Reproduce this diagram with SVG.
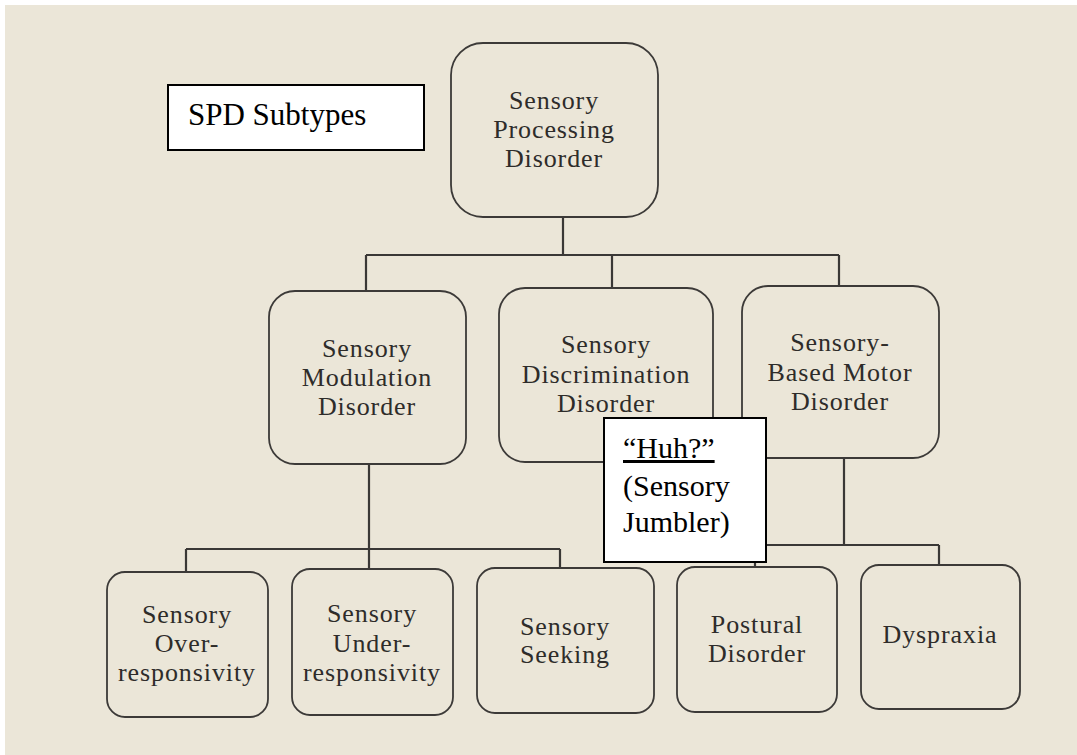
<svg xmlns="http://www.w3.org/2000/svg" width="1077" height="755" viewBox="0 0 1077 755">
<style>
.node rect{fill:none;stroke:#3c3a38;stroke-width:1.8}
.node text{font-family:'Liberation Serif','Times New Roman','DejaVu Serif',serif;font-size:26px;fill:#2e2c2a;text-anchor:middle;letter-spacing:0.9px}
.conn{fill:none;stroke:#3a3836;stroke-width:2.2}
.note rect{fill:#fff;stroke:#000;stroke-width:2}
.note text{font-family:'Liberation Serif','Times New Roman','DejaVu Serif',serif;fill:#000}
</style>
<rect width="1077" height="755" fill="#fff"/>
<rect x="5" y="5" width="1072" height="750" fill="#ebe6d8"/>
<g id="connectors" class="conn">
<path d="M563 217V255M366 255H839M366 255V291M612 255V288M839 255V286"/>
<path d="M369 464V569M186 549H560M186 549V572M560 549V568"/>
<path d="M844 458V545M755 545H939M755 545V567M939 545V565"/>
</g>
<g id="n-spd" class="node"><rect x="451" y="43" width="207" height="174" rx="32"/>
<text x="554" y="109">Sensory</text><text x="554" y="138">Processing</text><text x="554" y="167">Disorder</text></g>
<g id="n-mod" class="node"><rect x="269" y="291" width="197" height="173" rx="26"/>
<text x="367" y="357">Sensory</text><text x="367" y="386">Modulation</text><text x="367" y="415">Disorder</text></g>
<g id="n-disc" class="node"><rect x="499" y="288" width="214" height="174" rx="26"/>
<text x="606" y="353">Sensory</text><text x="606" y="383">Discrimination</text><text x="606" y="412">Disorder</text></g>
<g id="n-motor" class="node"><rect x="742" y="286" width="197" height="172" rx="26"/>
<text x="840" y="351">Sensory-</text><text x="840" y="381">Based Motor</text><text x="840" y="410">Disorder</text></g>
<g id="n-over" class="node"><rect x="107" y="572" width="161" height="145" rx="18"/>
<text x="187" y="623">Sensory</text><text x="187" y="652">Over-</text><text x="187" y="681">responsivity</text></g>
<g id="n-under" class="node"><rect x="292" y="569" width="161" height="146" rx="18"/>
<text x="372" y="622">Sensory</text><text x="372" y="652">Under-</text><text x="372" y="681">responsivity</text></g>
<g id="n-seek" class="node"><rect x="477" y="568" width="177" height="145" rx="18"/>
<text x="565" y="635">Sensory</text><text x="565" y="663">Seeking</text></g>
<g id="n-post" class="node"><rect x="677" y="567" width="160" height="145" rx="18"/>
<text x="757" y="633">Postural</text><text x="757" y="662">Disorder</text></g>
<g id="n-dys" class="node"><rect x="861" y="565" width="159" height="144" rx="18"/>
<text x="940" y="643">Dyspraxia</text></g>
<g id="note-spd" class="note"><rect x="168" y="85" width="256" height="65"/>
<text x="188" y="125" font-size="31">SPD Subtypes</text></g>
<g id="note-huh" class="note"><rect x="604" y="418" width="162" height="144"/>
<text x="623" y="458" font-size="30" text-decoration="underline">“Huh?”</text>
<text x="623" y="496" font-size="30">(Sensory</text>
<text x="623" y="532" font-size="30">Jumbler)</text></g>
</svg>
